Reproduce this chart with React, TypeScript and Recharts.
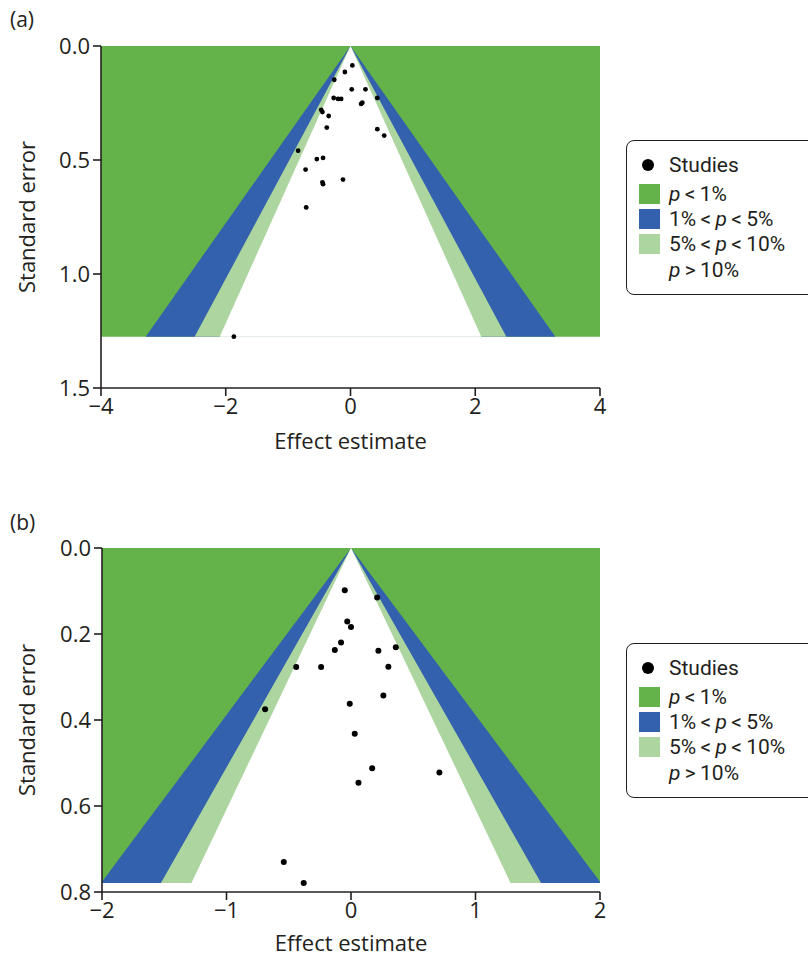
import React from 'react';
import { ComposedChart, Area, Scatter, XAxis, YAxis } from 'recharts';

// ---- Data ----
// Panel (a): studies (effect estimate, standard error)
const studiesAEffect = [0.03, -0.09, -0.26, 0.02, 0.24, 0.43, -0.27, -0.2, -0.15, 0.19, 0.17, -0.47, -0.45, -0.35, -0.38, 0.43, 0.54, -0.84, -0.54, -0.44, -0.72, -0.12, -0.45, -0.44, -0.71, -1.87];
const studiesASE = [0.085, 0.114, 0.148, 0.19, 0.19, 0.228, 0.228, 0.232, 0.232, 0.249, 0.254, 0.28, 0.29, 0.307, 0.358, 0.365, 0.393, 0.459, 0.496, 0.491, 0.542, 0.586, 0.598, 0.606, 0.708, 1.275];

// Panel (b)
const studiesBEffect = [-0.05, 0.21, -0.03, 0.0, -0.08, -0.13, 0.22, 0.36, -0.44, -0.24, 0.3, -0.69, 0.26, -0.01, 0.03, 0.17, 0.71, 0.06, -0.54, -0.38];
const studiesBSE = [0.098, 0.115, 0.171, 0.184, 0.22, 0.237, 0.239, 0.231, 0.277, 0.277, 0.276, 0.375, 0.343, 0.362, 0.432, 0.512, 0.522, 0.546, 0.73, 0.779];

// Significance contour z-values (p = 1%, 5%, 10%, two-sided)
const zP01 = 2.576;
const zP05 = 1.96;
const zP10 = 1.645;

const xTicksA = [-4, -2, 0, 2, 4];
const yTicksA = [0, 0.5, 1.0, 1.5];
const xTicksB = [-2, -1, 0, 1, 2];
const yTicksB = [0, 0.2, 0.4, 0.6, 0.8];

const legendLabels = ['Studies', 'p < 1%', '1% < p < 5%', '5% < p < 10%', 'p > 10%'];

// ---- Styling ----
const GREEN = '#64b34a';
const BLUE = '#3461ad';
const LIGHT = '#add5a0';
const INK = '#231f20';
const FONT = '"Open Sans", sans-serif';
const LEGEND_FONT = 'Roboto, sans-serif';

function buildContours(S: number, xmin: number, xmax: number) {
  const xs = [xmin, xmax, -zP01 * S, -zP05 * S, -zP10 * S, 0, zP10 * S, zP05 * S, zP01 * S]
    .sort((a, b) => a - b)
    .filter((v, i, arr) => i === 0 || Math.abs(v - arr[i - 1]) > 1e-9);
  const band = (x: number, z: number) =>
    Math.abs(x) <= z * S + 1e-9 ? [Math.abs(x) / z, S] : null;
  return xs.map((x) => ({
    x,
    green: [0, S],
    blue: band(x, zP01),
    light: band(x, zP05),
    white: band(x, zP10),
  }));
}

const fmtX = (v: number) => String(v).replace('-', '\u2212');

interface PanelProps {
  effects: number[];
  ses: number[];
  xDomain: [number, number];
  yDomain: [number, number];
  xTicks: number[];
  yTicks: number[];
  yFmt: (v: number) => string;
  height: number;
  xAxisHeight: number;
  yAxisWidth: number;
  xLabelOffset: number;
  r: number;
}

function Panel(p: PanelProps) {
  const S = Math.max(...p.ses);
  const contours = buildContours(S, p.xDomain[0], p.xDomain[1]);
  const studies = p.effects.map((x, i) => ({ x, se: p.ses[i] }));
  const tickStyle = { fill: INK, fontSize: 22, fontFamily: FONT };
  const axisLine = { stroke: INK, strokeWidth: 1.6 };
  return (
    <ComposedChart
      width={808}
      height={p.height}
      data={contours}
      margin={{ top: 46, right: 208, left: 0, bottom: 0 }}
    >
      <XAxis
        dataKey="x"
        type="number"
        domain={p.xDomain}
        allowDataOverflow
        ticks={p.xTicks}
        tickFormatter={fmtX}
        height={p.xAxisHeight}
        tickSize={8}
        tickMargin={2}
        axisLine={axisLine}
        tickLine={axisLine}
        tick={tickStyle}
        label={{
          value: 'Effect estimate',
          position: 'insideBottom',
          offset: p.xLabelOffset,
          style: { fill: INK, fontSize: 22, fontFamily: FONT },
        }}
      />
      <YAxis
        type="number"
        reversed
        domain={p.yDomain}
        allowDataOverflow
        ticks={p.yTicks}
        tickFormatter={p.yFmt}
        width={p.yAxisWidth}
        tickSize={8}
        tickMargin={3}
        axisLine={axisLine}
        tickLine={axisLine}
        tick={tickStyle}
        label={{
          value: 'Standard error',
          angle: -90,
          position: 'insideLeft',
          offset: 27,
          style: { fill: INK, fontSize: 22, fontFamily: FONT, textAnchor: 'middle' },
        }}
      />
      <Area dataKey="green" type="linear" fill={GREEN} fillOpacity={1} stroke="none" dot={false} activeDot={false} isAnimationActive={false} />
      <Area dataKey="blue" type="linear" fill={BLUE} fillOpacity={1} stroke="none" dot={false} activeDot={false} isAnimationActive={false} />
      <Area dataKey="light" type="linear" fill={LIGHT} fillOpacity={1} stroke="none" dot={false} activeDot={false} isAnimationActive={false} />
      <Area dataKey="white" type="linear" fill="#ffffff" fillOpacity={1} stroke="none" dot={false} activeDot={false} isAnimationActive={false} />
      <Scatter
        data={studies}
        dataKey="se"
        isAnimationActive={false}
        shape={(sp: any) => <circle cx={sp.cx} cy={sp.cy} r={p.r} fill="#000" />}
      />
    </ComposedChart>
  );
}

function PText({ label }: { label: string }) {
  const parts = label.split(' ');
  return (
    <span>
      {parts.map((t, i) => (
        <React.Fragment key={i}>
          {i > 0 ? '\u2009' : ''}
          {t === 'p' ? <i>p</i> : t}
        </React.Fragment>
      ))}
    </span>
  );
}

function LegendBox({ top }: { top: number }) {
  const swatches = [GREEN, BLUE, LIGHT];
  const rowY = [24, 53, 78, 103, 129];
  return (
    <div
      style={{
        position: 'absolute',
        left: 626,
        top,
        width: 200,
        height: 155,
        boxSizing: 'border-box',
        border: `1.6px solid ${INK}`,
        borderRadius: 8,
        fontFamily: LEGEND_FONT,
        fontSize: 21,
        color: INK,
      }}
    >
      <div style={{ position: 'absolute', left: 15, top: rowY[0] - 6, width: 12, height: 12, borderRadius: 6, background: '#000' }} />
      {swatches.map((c, i) => (
        <div key={i} style={{ position: 'absolute', left: 12, top: rowY[i + 1] - 10, width: 21, height: 20, background: c }} />
      ))}
      {legendLabels.map((l, i) => (
        <div key={i} style={{ position: 'absolute', left: 42, top: rowY[i] - 11, height: 22, lineHeight: '22px', whiteSpace: 'nowrap' }}>
          <PText label={l} />
        </div>
      ))}
    </div>
  );
}

export default function App() {
  return (
    <div style={{ position: 'absolute', left: 0, top: 0, width: 808, height: 958, background: '#fff', overflow: 'hidden' }}>
      <div style={{ position: 'absolute', left: 10, top: 5, fontFamily: FONT, fontSize: 21, color: INK }}>(a)</div>
      <div style={{ position: 'absolute', left: 10, top: 508, fontFamily: FONT, fontSize: 21, color: INK }}>(b)</div>
      <div style={{ position: 'absolute', left: 0, top: 0 }}>
        <Panel
          effects={studiesAEffect}
          ses={studiesASE}
          xDomain={[-4, 4]}
          yDomain={[0, 1.5]}
          xTicks={xTicksA}
          yTicks={yTicksA}
          yFmt={(v) => v.toFixed(1)}
          height={460}
          xAxisHeight={72}
          yAxisWidth={101}
          xLabelOffset={11}
          r={2.4}
        />
      </div>
      <div style={{ position: 'absolute', left: 0, top: 502 }}>
        <Panel
          effects={studiesBEffect}
          ses={studiesBSE}
          xDomain={[-2, 2]}
          yDomain={[0, 0.8]}
          xTicks={xTicksB}
          yTicks={yTicksB}
          yFmt={(v) => v.toFixed(1)}
          height={456}
          xAxisHeight={66}
          yAxisWidth={102}
          xLabelOffset={7}
          r={3}
        />
      </div>
      <LegendBox top={140} />
      <LegendBox top={643} />
    </div>
  );
}
